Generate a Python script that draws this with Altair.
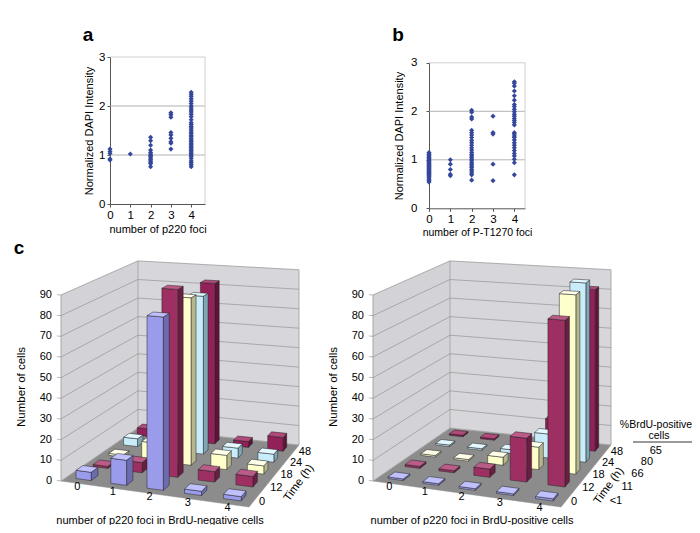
import numpy as np
import pandas as pd
import altair as alt

FONT = "Liberation Sans"
W, H = 684, 517
M = 8  # page margin

# ---------------- panel a: DAPI intensity by number of p220 foci ----------------
a_foci0 = [1.12, 1.07, 1.03, 0.92, 0.90]
a_foci1 = [1.02]
a_foci2 = [1.36, 1.29, 1.20, 1.10, 1.05, 1.02, 0.99, 0.97, 0.94, 0.91, 0.88, 0.85, 0.82, 0.76]
a_foci3 = [1.86, 1.82, 1.77, 1.46, 1.41, 1.34, 1.27, 1.24, 1.12]
a_foci4 = [2.28, 2.24, 2.20, 2.15, 2.10, 2.05, 2.00, 1.96, 1.92, 1.88, 1.83, 1.78, 1.72,
           1.66, 1.62, 1.58, 1.55, 1.51, 1.47, 1.44, 1.40, 1.37, 1.33, 1.30, 1.27, 1.24,
           1.21, 1.18, 1.15, 1.12, 1.09, 1.06, 1.03, 1.00, 0.97, 0.93, 0.88, 0.84, 0.80, 0.76]

# ---------------- panel b: DAPI intensity by number of P-T1270 foci ----------------
b_foci0 = [1.15, 1.12, 1.10, 1.08, 1.05, 1.03, 1.00, 0.98, 0.96, 0.94, 0.92, 0.90, 0.88, 0.86,
           0.84, 0.82, 0.80, 0.78, 0.76, 0.74, 0.72, 0.70, 0.68, 0.66, 0.63, 0.60, 0.57, 0.54]
b_foci1 = [1.00, 0.91, 0.80, 0.70, 0.67]
b_foci2 = [2.02, 1.98, 1.88, 1.84, 1.61, 1.56, 1.51, 1.46, 1.40, 1.35, 1.30, 1.25, 1.20, 1.15,
           1.11, 1.08, 1.04, 1.01, 0.98, 0.94, 0.91, 0.87, 0.84, 0.80, 0.77, 0.73, 0.69, 0.58]
b_foci3 = [1.90, 1.56, 1.53, 0.91, 0.57]
b_foci4 = [2.61, 2.58, 2.52, 2.42, 2.32, 2.23, 2.14, 2.10, 2.04, 1.99, 1.94, 1.90, 1.85, 1.81,
           1.77, 1.72, 1.56, 1.53, 1.49, 1.46, 1.41, 1.35, 1.30, 1.25, 1.19, 1.13, 1.08, 1.01,
           0.94, 0.69]

# ---------------- panel c: number of cells per foci count and time ----------------
foci_labels = ["0", "1", "2", "3", "4"]
time_labels = ["0", "12", "18", "24", "48"]
brdu_positive_pct = ["<1", "11", "66", "80", "65"]
value_ticks = [0, 10, 20, 30, 40, 50, 60, 70, 80, 90]

neg_t0 = [4, 12, 82, 2, 2]
neg_t12 = [1, 5, 91, 5, 5]
neg_t18 = [1, 9, 83, 7, 4]
neg_t24 = [4, 2, 80, 5, 4]
neg_t48 = [4, 2, 83, 3, 7]

pos_t0 = [0.8, 0.8, 0.8, 0.8, 1.0]
pos_t12 = [1, 1, 4, 21, 79]
pos_t18 = [0.8, 0.8, 4, 11, 87]
pos_t24 = [0.8, 0.8, 2, 12, 89]
pos_t48 = [0.8, 0.8, 1, 14, 82]

neg_rows = [neg_t0, neg_t12, neg_t18, neg_t24, neg_t48]
pos_rows = [pos_t0, pos_t12, pos_t18, pos_t24, pos_t48]

# series colours (front, top, side) per time row
shades = [
    ("#9b9bec", "#c0c0ff", "#6b6bae"),
    ("#9e2f63", "#bb5b87", "#6a1e42"),
    ("#ffffcc", "#ffffea", "#b5b58e"),
    ("#c8ecfa", "#e4f8ff", "#7ea6b6"),
    ("#922059", "#b2497b", "#5e1438"),
]

# ---------------- 3D frame (perspective of the floor) ----------------
FLOOR = [(373, 481), (561, 507), (611, 445), (450, 428)]  # page px of floor corners
S0 = 186 / 90.0  # px per cell at front-left corner
OX_LEFT = -312


def square_to_quad(q):
    (x0, y0), (x1, y1), (x2, y2), (x3, y3) = q
    dx1, dx2, dx3 = x1 - x2, x3 - x2, x0 - x1 + x2 - x3
    dy1, dy2, dy3 = y1 - y2, y3 - y2, y0 - y1 + y2 - y3
    den = dx1 * dy2 - dx2 * dy1
    g = (dx3 * dy2 - dx2 * dy3) / den
    h = (dx1 * dy3 - dx3 * dy1) / den
    a = x1 - x0 + g * x1
    b = x3 - x0 + h * x3
    d = y1 - y0 + g * y1
    e = y3 - y0 + h * y3
    return a, b, x0, d, e, y0, g, h


ha, hb, hc, hd, he, hf, hg, hh = square_to_quad(FLOOR)
proj = dict(
    w=f"{hg}*datum.X/5 + {hh}*datum.Z/5 + 1",
    sx=f"({ha}*datum.X/5 + {hb}*datum.Z/5 + {hc})/datum.w + datum.ox",
    sy=f"({hd}*datum.X/5 + {he}*datum.Z/5 + {hf})/datum.w - datum.Y*{S0}*pow(datum.w, -0.6)",
)

px_x = alt.Scale(domain=[M, M + W], range=[0, W], nice=False, zero=False)
px_y = alt.Scale(domain=[M, M + H], range=[0, H], nice=False, zero=False)
XP = alt.X("sx:Q", scale=px_x, axis=None)
YP = alt.Y("sy:Q", scale=px_y, axis=None)

# ---------------- polygons ----------------
bg_rows, bar_rows = [], []
counter = [0]


def add_poly(store, pts, fill, stroke, ox):
    pid = f"p{counter[0]:05d}"
    counter[0] += 1
    for j, (X, Y, Z) in enumerate(pts + [pts[0]]):
        store.append(dict(poly=pid, vid=j, X=X, Y=Y, Z=Z, fill=fill, stroke=stroke, ox=ox))


for ox in (OX_LEFT, 0):
    add_poly(bg_rows, [(0, 0, 0), (5, 0, 0), (5, 0, 5), (0, 0, 5)], "#8c8c8c", "#8c8c8c", ox)
    add_poly(bg_rows, [(0, 0, 0), (0, 0, 5), (0, 90, 5), (0, 90, 0)], "#d3d3d7", "#d3d3d7", ox)
    add_poly(bg_rows, [(0, 0, 5), (5, 0, 5), (5, 90, 5), (0, 90, 5)], "#d7d7db", "#d7d7db", ox)

GX, GZ = 0.28, 0.30
for ox, counts in ((OX_LEFT, neg_rows), (0, pos_rows)):
    for k in reversed(range(5)):
        front, top, side = shades[k]
        for i in range(5):
            h = counts[k][i]
            x0, x1 = i + GX, i + 1 - GX
            z0, z1 = k + GZ, k + 1 - GZ
            add_poly(bar_rows, [(x1, 0, z0), (x1, 0, z1), (x1, h, z1), (x1, h, z0)], side, "#222222", ox)
            add_poly(bar_rows, [(x0, 0, z0), (x1, 0, z0), (x1, h, z0), (x0, h, z0)], front, "#222222", ox)
            add_poly(bar_rows, [(x0, h, z0), (x1, h, z0), (x1, h, z1), (x0, h, z1)], top, "#222222", ox)

df_bg = pd.DataFrame(bg_rows)
df_bars = pd.DataFrame(bar_rows)

# wall gridlines and edges
grid_rows = []
gid = 0
for ox in (OX_LEFT, 0):
    for v in value_ticks:
        for j, (X, Y, Z) in enumerate([(-0.12, v, 0), (0, v, 0), (0, v, 5), (5, v, 5)]):
            grid_rows.append(dict(gid=gid, vid=j, X=X, Y=Y, Z=Z, ox=ox))
        gid += 1
    for (X, Z) in [(0, 0), (0, 5), (5, 5)]:
        for j, Y in enumerate([0, 90]):
            grid_rows.append(dict(gid=gid, vid=j, X=X, Y=Y, Z=Z, ox=ox))
        gid += 1
df_grid = pd.DataFrame(grid_rows)


def poly_layer(df):
    return alt.Chart(df).transform_calculate(**proj).mark_line(
        strokeWidth=0.5, strokeJoin="round", interpolate="linear"
    ).encode(
        x=XP, y=YP,
        detail="poly:N",
        order="vid:Q",
        fill=alt.Fill("fill:N", scale=None),
        stroke=alt.Stroke("stroke:N", scale=None),
    )


bg_layer = poly_layer(df_bg)
bar_layer = poly_layer(df_bars)
grid_layer = alt.Chart(df_grid).transform_calculate(**proj).mark_line(
    strokeWidth=0.6, color="#8a8a8a"
).encode(x=XP, y=YP, detail="gid:N", order="vid:Q")

# 3D axis labels
vlab = pd.DataFrame([dict(X=0, Y=v, Z=0, ox=ox, t=str(v)) for ox in (OX_LEFT, 0) for v in value_ticks])
clab = pd.DataFrame([dict(X=i + 0.5, Y=0, Z=0, ox=ox, t=foci_labels[i]) for ox in (OX_LEFT, 0) for i in range(5)])
tlab = pd.DataFrame([dict(X=5, Y=0, Z=k + 0.5, ox=ox, t=time_labels[k]) for ox in (OX_LEFT, 0) for k in range(5)])
plab = pd.DataFrame([dict(X=5, Y=0, Z=k + 0.5, ox=0, t=brdu_positive_pct[k]) for k in range(5)])


def text_layer(df, **kw):
    return alt.Chart(df).transform_calculate(**proj).mark_text(fontSize=11, color="black", **kw).encode(
        x=XP, y=YP, text="t:N")


vlab_layer = text_layer(vlab, align="right", baseline="middle", dx=-9)
clab_layer = text_layer(clab, align="center", baseline="middle", dx=-1, dy=4)
tlab_layer = text_layer(tlab, align="left", baseline="middle", dx=4, dy=2)
plab_layer = text_layer(plab, align="center", baseline="middle", dx=49, dy=1)


# titles / annotations (page pixel positions)
def label(txt, x, y, **kw):
    df = pd.DataFrame({"sx": [x], "sy": [y], "t": [txt]})
    return alt.Chart(df).mark_text(color="black", **kw).encode(x=XP, y=YP, text="t:N")


titles = [
    label("a", 88, 35, fontSize=19, fontWeight="bold", baseline="middle", align="center"),
    label("b", 398, 35, fontSize=19, fontWeight="bold", baseline="middle", align="center"),
    label("c", 19, 248, fontSize=19, fontWeight="bold", baseline="middle", align="center"),
    label("Number of cells", 22, 387, fontSize=11.5, angle=270, baseline="middle", align="center"),
    label("Number of cells", 334, 387, fontSize=11.5, angle=270, baseline="middle", align="center"),
    label("Time (h)", 299, 483, fontSize=11.5, angle=306, baseline="middle", align="center"),
    label("Time (h)", 609, 486, fontSize=11.5, angle=306, baseline="middle", align="center"),
    label("number of p220 foci in BrdU-negative cells", 160, 525.5, fontSize=11, baseline="bottom", align="center"),
    label("number of p220 foci in BrdU-positive cells", 472, 525.5, fontSize=11, baseline="bottom", align="center"),
    label("%BrdU-positive", 656, 425, fontSize=10.5, baseline="middle", align="center"),
    label("cells", 659, 436, fontSize=10.5, baseline="middle", align="center"),
]
rule_df = pd.DataFrame({"sx": [633], "sx2": [692], "sy": [442]})
table_rule = alt.Chart(rule_df).mark_rule(color="black", strokeWidth=0.8).encode(
    x=XP, x2="sx2:Q", y=YP)

px_layer = alt.layer(bg_layer, grid_layer, bar_layer, vlab_layer, clab_layer, tlab_layer,
                     plab_layer, table_rule, *titles)


# ---------------- scatter panels ----------------
def scatter_df(cols):
    recs = []
    for f, vals in enumerate(cols):
        for v in vals:
            recs.append({"foci": f, "dapi": v})
    return pd.DataFrame(recs)


def scatter_panel(df, xmax, xpx, ypx, xtitle, xtitle_size, ylabel_pad, ytitle_pad):
    xr = [xpx[0] - M, xpx[1] - M]
    yr = [ypx[0] - M, ypx[1] - M]  # [bottom, top]
    xs = alt.Scale(domain=[0, xmax], range=xr, nice=False, zero=False)
    ys = alt.Scale(domain=[0, 3], range=yr, nice=False, zero=False)
    xaxis = alt.Axis(orient="bottom", offset=yr[0] - H, values=[0, 1, 2, 3, 4], format="d",
                     title=xtitle, titleFontSize=xtitle_size, titleFontWeight="normal",
                     titlePadding=3, titleColor="black", labelFontSize=11.5, labelPadding=2,
                     labelColor="black", labelFlush=False, tickSize=3, tickColor="#555555",
                     domainColor="#555555", grid=False)
    yaxis = alt.Axis(orient="left", offset=-xr[0], values=[0, 1, 2, 3], format="d",
                     title="Normalized DAPI Intensity", titleFontSize=11, titleFontWeight="normal",
                     titlePadding=ytitle_pad, titleColor="black", labelFontSize=11.5,
                     labelPadding=ylabel_pad, labelColor="black", tickSize=3, tickColor="#555555",
                     domainColor="#555555", grid=False)
    gl = pd.DataFrame({"foci": [0, 0], "foci2": [xmax, xmax], "dapi": [1, 2]})
    bl = pd.DataFrame({"foci": [0], "foci2": [xmax], "dapi": [3]})
    vl = pd.DataFrame({"foci": [xmax], "dapi": [0], "dapi2": [3]})
    grid = alt.Chart(gl).mark_rule(color="#a0a0a0", strokeWidth=0.8).encode(
        x=alt.X("foci:Q", scale=xs, axis=xaxis), x2="foci2:Q",
        y=alt.Y("dapi:Q", scale=ys, axis=yaxis))
    top = alt.Chart(bl).mark_rule(color="#c4c4c4", strokeWidth=0.8).encode(
        x=alt.X("foci:Q", scale=xs, axis=xaxis), x2="foci2:Q",
        y=alt.Y("dapi:Q", scale=ys, axis=yaxis))
    right = alt.Chart(vl).mark_rule(color="#c4c4c4", strokeWidth=0.8).encode(
        x=alt.X("foci:Q", scale=xs, axis=xaxis),
        y=alt.Y("dapi:Q", scale=ys, axis=yaxis), y2="dapi2:Q")
    pts = alt.Chart(df).mark_point(shape="diamond", filled=True, size=26, color="#34479a",
                                   opacity=1).encode(
        x=alt.X("foci:Q", scale=xs, axis=xaxis),
        y=alt.Y("dapi:Q", scale=ys, axis=yaxis))
    return alt.layer(grid, top, right, pts)


panel_a = scatter_panel(scatter_df([a_foci0, a_foci1, a_foci2, a_foci3, a_foci4]),
                        4.68, (110, 205), (204, 57), "number of p220 foci", 11, 2, 4)
panel_b = scatter_panel(scatter_df([b_foci0, b_foci1, b_foci2, b_foci3, b_foci4]),
                        4.5, (429, 525), (208.3, 62.8), "number of P-T1270 foci", 10.5, 9, 6)

chart = alt.layer(panel_a, panel_b, px_layer).resolve_scale(
    x="independent", y="independent"
).properties(
    width=W, height=H, padding=0, autosize=alt.AutoSizeParams(type="none"),
    background="white",
).configure(font=FONT).configure_view(stroke=None)

chart.save("out.html", embed_options={"renderer": "svg", "actions": False})
